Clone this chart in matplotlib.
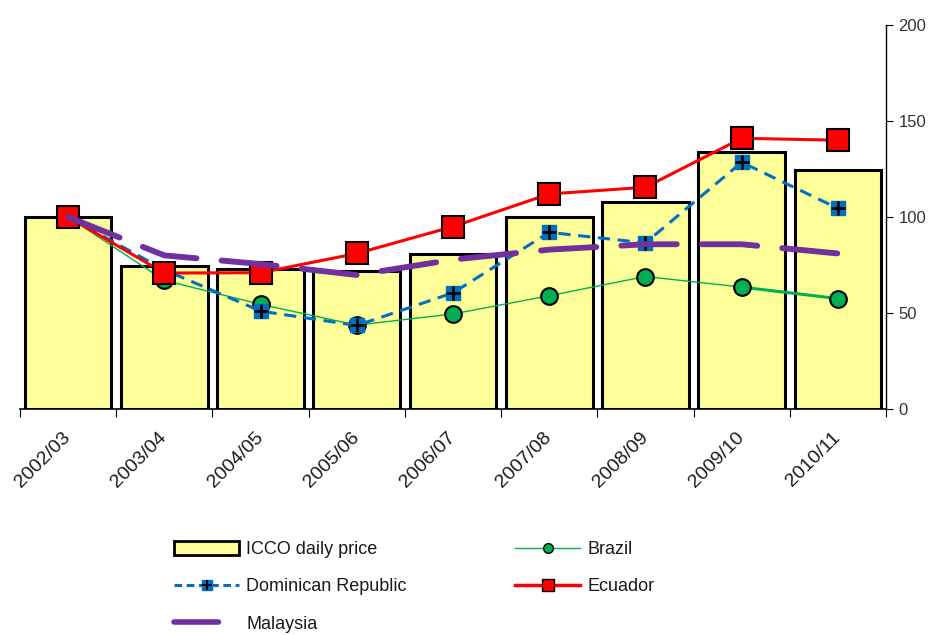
import matplotlib
matplotlib.use("Agg")
import matplotlib.pyplot as plt
from matplotlib.lines import Line2D
from matplotlib.patches import Patch
from matplotlib.legend_handler import HandlerTuple
from matplotlib.transforms import ScaledTranslation

plt.rcParams['font.family'] = ['Liberation Sans', 'DejaVu Sans']

seasons = ["2002/03", "2003/04", "2004/05", "2005/06", "2006/07",
           "2007/08", "2008/09", "2009/10", "2010/11"]
icco = [100, 74.5, 72.8, 72, 80.5, 100, 108, 134, 124.5]
brazil = [100, 67, 54.5, 43.7, 49.5, 59, 69, 63.5, 57.5]
dominican = [100, 72.5, 51, 43.5, 60.5, 92, 86.5, 128.5, 104.5]
ecuador = [100, 70.8, 71, 81, 95, 112, 115.5, 141, 140]
malaysia = [100, 80, 75.5, 69.8, 77.8, 83, 85.8, 85.8, 81]

x = list(range(len(seasons)))

fig = plt.figure(figsize=(9.32, 6.35), dpi=100)
ax = fig.add_axes([20 / 932, 1 - 409 / 635, 866 / 932, 384 / 635])

ax.bar(x, icco, width=0.9, color="#FFFF99", edgecolor="black", linewidth=2.2, zorder=1)

# Brazil: thin line, last segment thicker
ax.plot(x[:-1], brazil[:-1], color="#00B050", linewidth=1, zorder=2)
ax.plot(x[-2:], brazil[-2:], color="#00B050", linewidth=2.2, zorder=2)
ax.plot(x, brazil, linestyle="none", marker="o", markersize=12,
        markerfacecolor="#00B050", markeredgecolor="black", markeredgewidth=1.5, zorder=3)

ax.plot(x, dominican, color="#0070C0", linewidth=2.2, dashes=(4, 2.5),
        marker="s", markersize=10, markerfacecolor="#0070C0",
        markeredgecolor="#0070C0", zorder=4)
ax.plot(x, dominican, linestyle="none", marker="+", markersize=10,
        markeredgecolor="black", markeredgewidth=2, zorder=4)

ax.plot(x, ecuador, color="#FF0000", linewidth=2.2, marker="s", markersize=16,
        markerfacecolor="#FF0000", markeredgecolor="black", markeredgewidth=1.5, zorder=5)

ax.plot(x, malaysia, color="#7030A0", linewidth=4.2, dashes=(9.5, 4.3),
        dash_capstyle="round", zorder=6)

ax.set_xlim(-0.5, len(seasons) - 0.5)
ax.set_ylim(0, 200)

for s in ["top", "left"]:
    ax.spines[s].set_visible(False)
ax.spines["right"].set_linewidth(1)
ax.spines["bottom"].set_linewidth(1.2)

ax.yaxis.tick_right()
ax.set_yticks([0, 50, 100, 150, 200])
ax.tick_params(axis="y", direction="out", length=5, labelsize=12,
               labelcolor="#333333", pad=4)

ax.set_xticks([i - 0.5 for i in range(len(seasons) + 1)])
ax.set_xticklabels([])
ax.set_xticks(x, minor=True)
ax.set_xticklabels(seasons, minor=True, rotation=45, ha="right", va="center",
                   rotation_mode="anchor", fontsize=14, color="#1a1a1a")
ax.tick_params(axis="x", which="major", direction="out", length=6)
ax.tick_params(axis="x", which="minor", length=0, pad=0)
off = ScaledTranslation(0.0, -0.26, fig.dpi_scale_trans)
for lab in ax.get_xticklabels(minor=True):
    lab.set_transform(lab.get_transform() + off)

# legend proxies
h_icco = Patch(facecolor="#FFFF99", edgecolor="black", linewidth=2)
h_dom_line = Line2D([], [], color="#0070C0", linewidth=2.2, dashes=(2.5, 1.5),
                    marker="s", markersize=7, markerfacecolor="#0070C0",
                    markeredgecolor="#0070C0")
h_dom_plus = Line2D([], [], linestyle="none", marker="+", markersize=7,
                    markeredgecolor="black", markeredgewidth=1.5)
h_mal = Line2D([], [], color="#7030A0", linewidth=4, dashes=(8, 20),
               dash_capstyle="round")
h_bra = Line2D([], [], color="#00B050", linewidth=1, marker="o", markersize=7,
               markerfacecolor="#00B050", markeredgecolor="black")
h_ecu = Line2D([], [], color="#FF0000", linewidth=2.5, marker="s", markersize=9,
               markerfacecolor="#FF0000", markeredgecolor="black", markeredgewidth=1)

fig.legend([h_icco, (h_dom_line, h_dom_plus), h_mal, h_bra, h_ecu],
           ["ICCO daily price", "Dominican Republic", "Malaysia", "Brazil", "Ecuador"],
           handler_map={tuple: HandlerTuple(ndivide=1)},
           ncol=2, frameon=False, fontsize=13, handlelength=3.6, handleheight=0.8,
           labelspacing=1.1, columnspacing=6.0, handletextpad=0.4,
           loc="upper left", bbox_to_anchor=(158 / 932, 1 - 525 / 635),
           labelcolor="#1a1a1a")

fig.savefig("out.png", dpi=100)
